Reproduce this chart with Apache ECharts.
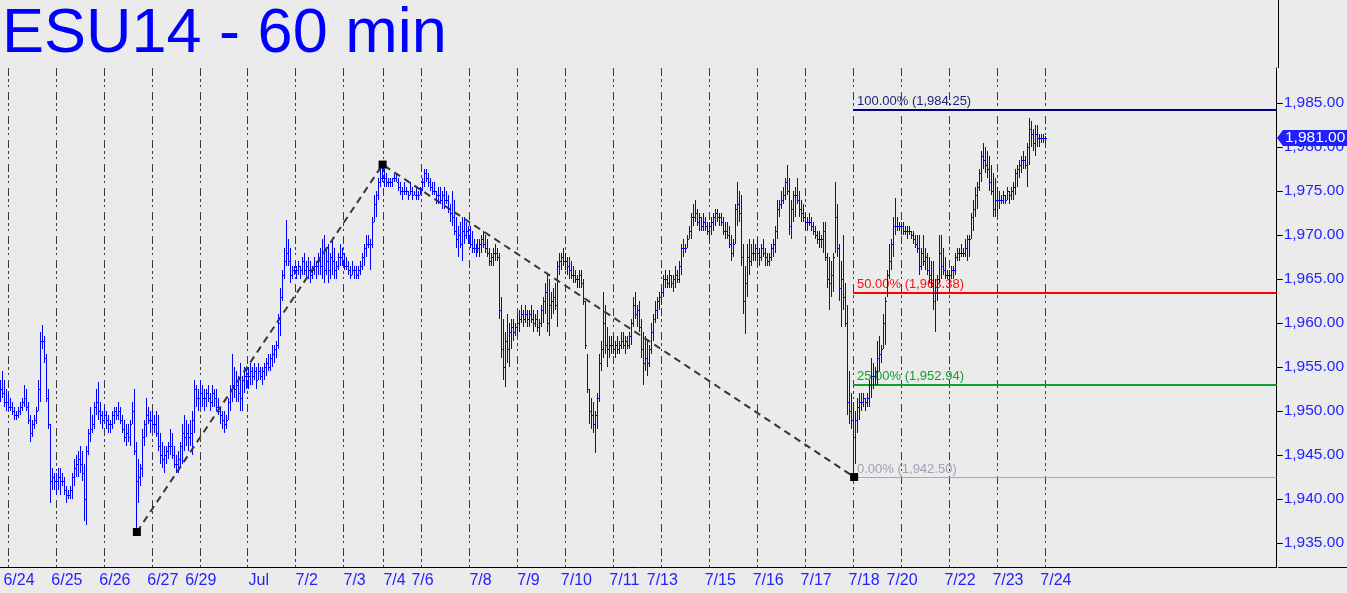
<!DOCTYPE html>
<html><head><meta charset="utf-8">
<script src="https://cdn.jsdelivr.net/npm/echarts@6/dist/echarts.min.js"></script>
<style>html,body{margin:0;padding:0;background:#ebebeb;}#c{width:1347px;height:593px;}</style>
</head><body><div id="c"></div>
<script>
// ---------- DATA (ESU14, 60-minute bars) ----------
const highs = [
1953.5,1954.5,1953.5,1952.5,1952.0,1951.5,1951.0,1950.5,1950.0,1950.5,
1951.0,1951.5,1953.0,1952.5,1951.0,1949.5,1949.0,1949.5,1950.5,1953.5,
1959.0,1959.75,1958.5,1956.5,1952.5,1948.5,1943.5,1943.0,1943.0,1943.5,
1943.5,1943.0,1942.5,1941.5,1941.0,1941.5,1943.0,1944.5,1945.0,1945.5,
1946.0,1945.5,1944.0,1946.0,1948.0,1950.5,1949.5,1951.0,1952.5,1953.25,
1951.0,1950.0,1950.5,1950.0,1949.5,1949.0,1950.0,1950.5,1950.5,1951.0,
1950.5,1949.5,1949.0,1948.5,1948.5,1949.0,1951.0,1952.5,1946.5,1944.5,
1944.0,1948.0,1949.0,1951.5,1950.5,1950.0,1950.0,1949.5,1950.0,1949.5,
1947.5,1946.5,1946.0,1946.0,1946.5,1948.0,1947.5,1946.0,1945.0,1945.5,
1946.5,1948.5,1949.5,1949.0,1948.5,1949.0,1950.0,1953.5,1953.0,1952.5,
1953.5,1953.0,1952.5,1952.5,1953.0,1952.0,1953.0,1952.5,1952.5,1951.5,
1950.5,1950.0,1950.0,1949.5,1951.5,1953.0,1956.5,1955.0,1954.5,1954.0,
1955.5,1954.0,1955.0,1955.0,1955.0,1955.5,1955.0,1955.5,1955.0,1955.5,
1955.0,1955.0,1955.5,1956.0,1956.5,1956.5,1957.5,1957.5,1958.0,1961.0,
1964.0,1966.0,1968.5,1971.75,1969.5,1968.5,1966.5,1966.5,1966.5,1967.0,
1966.5,1967.5,1968.0,1967.0,1967.5,1967.0,1966.5,1967.5,1967.0,1968.0,
1968.5,1969.5,1970.0,1968.5,1969.0,1968.0,1969.5,1968.5,1967.0,1968.0,
1969.0,1968.5,1968.0,1967.5,1967.0,1966.5,1967.0,1966.5,1966.5,1966.5,
1967.0,1968.0,1969.0,1970.0,1970.0,1969.5,1972.0,1974.5,1975.0,1976.5,
1977.5,1978.0,1977.5,1977.0,1976.5,1976.5,1976.5,1977.0,1977.0,1976.5,
1976.0,1975.5,1976.0,1975.5,1975.0,1976.0,1975.5,1975.0,1975.5,1975.0,
1975.5,1976.5,1977.5,1977.5,1977.0,1976.5,1976.0,1976.0,1975.0,1975.5,
1975.5,1975.0,1975.5,1975.0,1974.5,1973.5,1975.0,1974.0,1972.0,1971.0,
1971.5,1972.0,1972.0,1971.5,1971.0,1971.0,1970.5,1969.5,1969.0,1969.5,
1969.5,1970.0,1970.5,1970.0,1969.5,1968.5,1968.0,1968.5,1969.0,1968.5,
1968.0,1963.0,1960.5,1959.0,1961.0,1960.0,1960.5,1960.5,1960.0,1961.0,
1961.5,1962.0,1961.5,1962.0,1961.5,1961.5,1962.0,1961.5,1961.0,1961.5,
1960.5,1962.0,1963.0,1964.5,1965.5,1965.0,1963.5,1964.0,1964.5,1967.0,
1968.0,1968.0,1968.5,1968.0,1967.5,1967.5,1967.0,1966.5,1966.0,1965.5,
1966.0,1966.0,1965.0,1962.5,1956.5,1952.5,1951.5,1951.0,1950.0,1952.0,
1956.5,1958.0,1963.5,1962.0,1959.5,1958.5,1958.5,1958.5,1958.0,1958.5,
1958.0,1959.0,1959.0,1958.5,1958.5,1959.0,1960.5,1963.0,1963.5,1962.0,
1962.5,1960.5,1959.0,1958.5,1958.0,1957.5,1960.0,1961.0,1962.5,1963.0,
1963.5,1964.0,1965.5,1966.0,1965.5,1966.0,1965.5,1965.5,1966.5,1966.0,
1967.0,1969.0,1969.5,1969.0,1970.0,1971.0,1972.5,1973.5,1974.0,1973.0,
1972.5,1972.0,1972.5,1972.0,1971.5,1971.5,1972.0,1972.5,1973.0,1973.0,
1972.5,1972.5,1972.0,1971.5,1971.5,1971.0,1970.0,1969.5,1973.5,1976.0,
1975.0,1974.5,1969.0,1966.5,1969.0,1969.5,1969.0,1969.5,1969.0,1969.5,
1968.5,1969.0,1969.5,1968.5,1968.0,1968.0,1969.0,1969.5,1971.0,1974.0,
1974.0,1975.0,1975.5,1976.5,1978.0,1976.5,1974.0,1975.0,1975.5,1976.5,
1975.0,1974.0,1973.5,1972.5,1972.0,1972.5,1972.0,1971.5,1971.0,1970.5,
1970.5,1970.0,1971.5,1971.5,1968.0,1967.5,1967.0,1968.0,1976.0,1973.5,
1969.0,1967.0,1970.0,1964.5,1962.0,1954.5,1952.0,1951.0,1950.0,1951.5,
1952.0,1952.0,1952.0,1951.5,1952.0,1953.5,1956.0,1955.5,1955.0,1958.0,
1958.5,1957.5,1961.0,1963.0,1966.0,1969.0,1969.5,1972.0,1974.25,1972.0,
1971.5,1971.5,1971.5,1971.0,1971.0,1971.0,1970.5,1970.5,1970.0,1970.0,
1970.0,1968.5,1970.0,1968.5,1968.0,1967.5,1967.0,1967.0,1965.0,1965.5,
1970.0,1970.0,1968.5,1967.5,1966.0,1966.0,1966.5,1966.5,1968.0,1968.5,
1968.5,1969.0,1968.5,1969.5,1970.0,1970.0,1972.5,1974.0,1975.5,1976.0,
1977.5,1979.5,1980.5,1980.0,1979.5,1979.0,1978.0,1977.0,1976.5,1975.5,
1975.0,1974.5,1975.0,1974.5,1975.5,1975.0,1975.5,1976.0,1977.5,1978.0,
1978.5,1979.0,1979.5,1979.0,1980.5,1983.25,1983.0,1982.0,1982.5,1982.5,
1981.5,1981.5,1981.5,1981.25
];
const lows = [
1951.0,1951.5,1950.5,1950.0,1950.0,1950.0,1949.5,1949.0,1949.0,1949.25,
1949.5,1950.0,1950.5,1950.0,1948.5,1946.5,1947.0,1948.0,1948.5,1950.0,
1951.0,1957.0,1955.5,1951.0,1948.0,1939.5,1941.0,1941.0,1940.5,1941.0,
1940.5,1941.5,1940.5,1939.5,1940.0,1940.0,1940.0,1941.5,1942.5,1942.5,
1943.0,1942.0,1937.5,1937.0,1945.0,1946.5,1947.5,1948.0,1949.5,1949.0,
1948.5,1948.0,1948.5,1948.0,1947.5,1947.5,1948.0,1948.5,1949.0,1949.0,
1948.5,1947.5,1946.5,1946.0,1946.5,1946.0,1948.5,1945.0,1936.25,1939.5,
1941.5,1942.5,1946.0,1947.0,1948.5,1947.5,1948.0,1947.5,1947.0,1945.5,
1944.0,1943.5,1943.0,1944.0,1944.5,1945.0,1944.5,1943.5,1943.0,1943.0,
1943.5,1944.0,1945.5,1946.0,1945.5,1946.0,1945.0,1947.5,1950.5,1950.0,
1950.5,1950.5,1950.0,1950.5,1951.0,1950.0,1950.5,1950.5,1950.0,1949.5,
1948.5,1948.0,1947.5,1948.0,1949.0,1950.0,1951.0,1951.5,1951.0,1951.0,
1950.0,1950.0,1952.0,1952.5,1952.5,1953.0,1953.0,1953.5,1952.5,1953.5,
1953.5,1953.0,1953.5,1954.0,1954.5,1954.5,1955.0,1955.5,1956.0,1957.0,
1958.5,1962.5,1965.0,1966.5,1966.5,1964.5,1965.0,1965.5,1965.0,1965.5,
1965.0,1965.5,1965.5,1965.0,1965.0,1964.5,1965.0,1965.5,1965.0,1965.5,
1965.5,1965.0,1964.5,1965.5,1964.5,1965.0,1965.5,1965.0,1965.0,1966.0,
1966.5,1966.5,1966.0,1966.0,1965.5,1965.0,1965.5,1965.0,1965.0,1965.0,
1965.5,1966.0,1966.5,1967.5,1968.5,1966.0,1968.5,1971.5,1972.0,1974.0,
1975.5,1976.0,1975.5,1975.5,1975.5,1975.5,1975.5,1976.0,1976.0,1975.0,
1974.5,1974.0,1974.5,1974.5,1974.0,1974.5,1974.0,1974.5,1974.0,1974.0,
1974.5,1975.0,1975.5,1976.0,1975.5,1975.0,1974.5,1974.5,1973.5,1973.5,
1973.5,1973.0,1973.0,1973.5,1972.5,1971.5,1971.0,1970.0,1968.5,1967.5,
1968.5,1967.0,1969.0,1969.5,1969.0,1968.5,1968.0,1968.0,1967.5,1968.0,
1967.5,1968.0,1968.5,1968.0,1967.5,1966.5,1966.5,1966.5,1967.0,1967.0,
1960.5,1956.0,1953.5,1952.75,1955.5,1955.0,1957.0,1958.0,1958.5,1958.5,
1959.0,1960.0,1959.5,1960.0,1959.5,1959.5,1960.0,1959.0,1959.5,1959.0,
1958.5,1959.5,1960.0,1961.0,1959.0,1958.5,1960.5,1961.0,1961.5,1959.5,
1965.5,1966.0,1966.5,1966.0,1965.5,1965.0,1965.0,1964.5,1964.5,1964.0,
1964.0,1964.0,1962.0,1957.0,1952.0,1948.5,1948.0,1947.5,1945.25,1948.0,
1951.0,1954.5,1956.0,1956.5,1955.0,1956.0,1956.5,1956.5,1956.0,1956.5,
1956.5,1957.0,1957.0,1956.5,1957.0,1957.0,1957.5,1959.5,1960.5,1959.5,
1959.0,1956.0,1953.0,1954.5,1954.0,1955.0,1956.5,1958.0,1960.0,1960.5,
1961.5,1962.0,1963.0,1964.0,1964.0,1964.0,1964.0,1963.5,1964.0,1964.5,
1964.5,1965.5,1967.5,1968.0,1968.5,1969.5,1969.5,1971.0,1971.5,1971.0,
1970.5,1970.5,1970.5,1970.5,1970.0,1969.5,1970.0,1970.5,1971.0,1971.5,
1971.0,1971.0,1970.0,1969.5,1969.5,1968.5,1967.0,1967.5,1969.0,1971.0,
1971.5,1966.5,1961.0,1958.75,1963.0,1965.5,1966.5,1967.0,1967.0,1967.0,
1966.5,1967.0,1967.5,1966.5,1966.5,1966.5,1967.0,1967.5,1968.0,1969.5,
1972.0,1973.0,1973.5,1974.0,1974.5,1970.0,1969.5,1971.5,1972.0,1973.5,
1972.0,1971.5,1971.5,1970.5,1970.5,1971.0,1970.5,1970.0,1969.5,1969.0,
1968.5,1968.5,1968.0,1967.0,1964.0,1961.5,1963.0,1963.5,1968.0,1967.5,
1962.5,1959.5,1961.5,1959.5,1949.5,1948.5,1948.0,1942.5,1944.0,1947.5,
1949.0,1950.0,1950.5,1950.0,1950.5,1950.5,1951.5,1952.5,1953.0,1953.0,
1954.5,1955.5,1957.0,1957.5,1963.0,1965.0,1966.0,1967.5,1970.0,1970.5,
1970.5,1970.0,1970.0,1970.0,1969.5,1970.0,1969.5,1969.0,1968.5,1968.0,
1965.5,1966.0,1966.5,1966.0,1965.5,1964.5,1964.0,1961.5,1959.0,1962.5,
1964.5,1965.0,1965.5,1965.0,1965.0,1964.5,1965.0,1965.0,1965.5,1967.0,
1967.0,1967.5,1967.5,1967.5,1967.0,1967.5,1969.5,1970.5,1972.0,1973.0,
1975.0,1976.0,1977.5,1977.0,1976.5,1975.0,1974.5,1972.0,1972.0,1972.5,
1973.0,1973.5,1973.5,1973.5,1974.0,1973.5,1974.0,1974.0,1974.5,1975.5,
1976.5,1977.0,1977.5,1977.5,1975.5,1978.0,1980.0,1979.5,1979.0,1980.0,
1980.0,1980.5,1980.5,1980.5
];
const closes = [
1952.5,1952.0,1951.0,1951.0,1950.5,1950.5,1950.0,1949.5,1949.5,1950.0,
1950.5,1951.0,1951.5,1950.5,1949.0,1947.5,1948.5,1949.0,1950.0,1952.5,
1958.0,1958.0,1956.0,1951.5,1948.5,1942.0,1942.5,1942.0,1942.0,1942.5,
1942.0,1942.0,1941.0,1940.5,1940.5,1941.0,1942.5,1943.5,1944.0,1944.5,
1944.0,1943.0,1940.0,1945.5,1947.5,1948.0,1948.5,1950.5,1951.0,1950.0,
1949.5,1949.0,1949.5,1949.0,1948.5,1948.5,1949.5,1950.0,1949.5,1950.0,
1949.0,1948.0,1947.0,1947.5,1947.0,1948.5,1950.0,1945.5,1942.0,1942.5,
1943.5,1947.0,1948.5,1949.5,1949.0,1949.0,1948.5,1948.5,1947.5,1946.0,
1945.0,1944.5,1945.0,1945.5,1946.0,1946.0,1945.0,1944.0,1944.0,1944.5,
1946.0,1947.5,1947.0,1947.5,1947.0,1947.5,1949.0,1952.5,1951.5,1951.5,
1952.0,1951.5,1951.5,1952.0,1951.5,1951.0,1952.0,1951.5,1950.5,1950.0,
1949.5,1949.0,1948.5,1949.0,1951.0,1952.5,1953.0,1952.5,1953.0,1952.0,
1951.5,1953.5,1954.0,1954.0,1954.0,1954.5,1954.0,1954.5,1953.5,1954.5,
1954.0,1954.5,1955.0,1955.5,1955.0,1956.0,1956.5,1957.0,1957.5,1960.0,
1963.0,1965.5,1967.0,1968.0,1967.0,1965.5,1966.0,1966.0,1966.0,1966.5,
1966.0,1967.0,1966.0,1966.5,1966.0,1965.5,1966.0,1966.5,1966.5,1967.0,
1966.5,1968.0,1966.0,1967.0,1966.0,1967.5,1967.0,1966.0,1966.5,1967.5,
1967.5,1967.0,1966.5,1966.5,1966.0,1965.5,1966.0,1966.0,1965.5,1966.0,
1966.5,1967.5,1968.5,1969.0,1969.0,1969.0,1971.5,1973.5,1974.5,1976.0,
1976.5,1976.5,1976.5,1976.0,1976.0,1976.0,1976.5,1976.5,1976.0,1975.5,
1975.0,1975.0,1975.0,1975.0,1974.5,1975.0,1974.5,1974.5,1974.5,1974.5,
1975.0,1976.0,1977.0,1976.5,1976.0,1975.5,1975.0,1975.0,1974.5,1974.5,
1974.0,1974.5,1974.0,1974.0,1973.0,1972.5,1972.0,1970.5,1969.5,1970.0,
1969.0,1970.5,1970.0,1970.5,1970.0,1969.0,1968.5,1968.5,1968.5,1968.5,
1969.0,1969.5,1969.0,1968.5,1968.0,1967.0,1967.5,1968.0,1968.0,1967.5,
1961.5,1957.0,1955.0,1958.0,1957.0,1959.0,1959.5,1959.0,1959.5,1960.0,
1960.5,1961.0,1960.5,1961.0,1960.5,1961.0,1960.5,1960.0,1960.5,1959.5,
1960.0,1961.5,1962.5,1963.5,1960.0,1962.0,1962.5,1963.0,1962.0,1966.5,
1967.0,1967.5,1967.0,1967.0,1966.5,1966.0,1965.5,1965.5,1965.0,1965.0,
1965.5,1964.5,1962.5,1957.5,1952.5,1950.0,1949.5,1948.5,1949.5,1951.5,
1955.5,1957.0,1960.0,1957.5,1957.0,1957.5,1957.5,1957.0,1957.5,1957.0,
1957.5,1958.0,1957.5,1958.0,1957.5,1958.5,1960.0,1962.0,1961.0,1961.5,
1959.5,1957.0,1955.5,1956.0,1955.5,1957.0,1959.0,1960.5,1961.5,1962.5,
1963.0,1963.5,1965.0,1965.0,1964.5,1965.5,1964.5,1965.0,1965.5,1965.0,
1966.5,1968.5,1968.5,1968.5,1969.5,1970.5,1972.0,1972.0,1972.5,1971.5,
1972.0,1971.0,1971.5,1971.0,1970.5,1971.0,1971.5,1972.0,1972.5,1972.0,
1972.0,1971.5,1970.5,1970.5,1970.0,1969.0,1968.0,1969.0,1973.0,1973.5,
1972.5,1967.5,1962.5,1964.5,1967.5,1967.0,1968.0,1968.0,1968.5,1968.0,
1967.5,1968.5,1968.0,1967.5,1967.0,1967.5,1968.5,1969.0,1970.5,1973.0,
1973.5,1974.0,1974.5,1976.0,1975.0,1971.0,1973.0,1974.5,1974.5,1974.0,
1973.0,1972.5,1972.0,1971.5,1971.5,1971.5,1971.0,1970.5,1970.0,1969.5,
1969.5,1969.5,1970.5,1967.5,1965.0,1964.5,1965.5,1967.5,1972.0,1968.5,
1964.0,1965.0,1963.0,1960.0,1951.0,1950.0,1949.0,1947.0,1949.0,1950.5,
1951.0,1951.0,1951.5,1951.0,1951.5,1953.0,1954.0,1954.0,1954.5,1956.0,
1956.5,1957.0,1960.0,1962.5,1965.5,1967.0,1969.0,1971.0,1971.0,1971.0,
1971.0,1971.0,1970.5,1970.5,1970.5,1970.5,1970.0,1969.5,1969.0,1968.5,
1966.5,1968.0,1967.0,1967.5,1966.0,1965.5,1964.5,1962.5,1963.5,1965.0,
1968.0,1966.5,1966.0,1965.5,1965.5,1965.5,1966.0,1966.0,1967.5,1968.0,
1968.0,1968.0,1968.0,1968.5,1969.5,1969.5,1972.0,1973.0,1974.5,1975.5,
1977.0,1979.0,1978.5,1978.0,1977.5,1976.0,1975.0,1973.0,1974.0,1974.0,
1974.0,1974.0,1974.5,1974.0,1975.0,1974.5,1975.0,1975.5,1977.0,1977.5,
1978.0,1978.5,1978.5,1978.0,1980.0,1982.0,1981.5,1980.5,1981.5,1981.0,
1981.0,1981.0,1981.0,1981.0
];
// trading sessions (trade date, number of hourly bars); each opens 18:00 ET the evening before
const sessionDates = ['2014-06-23','2014-06-24','2014-06-25','2014-06-26','2014-06-27','2014-06-30',
  '2014-07-01','2014-07-02','2014-07-03','2014-07-04','2014-07-07','2014-07-08','2014-07-09',
  '2014-07-10','2014-07-11','2014-07-14','2014-07-15','2014-07-16','2014-07-17','2014-07-18',
  '2014-07-21','2014-07-22','2014-07-23','2014-07-24'];
const sessionBars = [24,24,24,24,24,24,24,24,20,19,24,24,24,24,24,24,24,24,24,24,24,24,24,24];
const firstBar = 20;          // chart window begins at bar 20 of the first session
const totalSlots = 639;       // bar slots across the price pane (incl. empty future space)
const monthNames = ['Jan','Feb','Mar','Apr','May','Jun','Jul','Aug','Sep','Oct','Nov','Dec'];
// Fibonacci retracement from the 7/18 low
const fibPct = [100, 50, 25, 0];
const fibPrice = [1984.25, 1963.38, 1952.94, 1942.50];
// swing points of the dashed zig-zag (bar index, price)
const swingIdx = [68, 191, 427];
const swingPrice = [1936.25, 1978.00, 1942.50];
const lastPrice = 1981.00;
const titleText = 'ESU14 - 60 min';

// ---------- build categories ----------
const HOUR = 3600e3;
const cats = [], catDate = [], sessionStart = new Set();
let g = 0;
sessionDates.forEach((d, s) => {
  const base = Date.parse(d + 'T00:00:00Z') - 6 * HOUR;
  for (let k = 0; k < sessionBars[s]; k++, g++) {
    if (g < firstBar) continue;
    const t = new Date(base + (k + 1) * HOUR);
    const md = (t.getUTCMonth() + 1) + '/' + t.getUTCDate();
    if (k === 0) sessionStart.add(cats.length);
    cats.push(md + ' ' + String(t.getUTCHours()).padStart(2, '0') + ':00');
    catDate.push({ m: t.getUTCMonth(), d: t.getUTCDate(), md: md });
  }
});
while (cats.length < totalSlots) { cats.push(''); catDate.push(null); }
const labelAt = {};
let lastShown = -100;
for (let i = 1; i < cats.length; i++) {
  if (!catDate[i] || !catDate[i - 1]) continue;
  if (catDate[i].md !== catDate[i - 1].md && i - lastShown >= 8) {
    labelAt[i] = catDate[i].d === 1 ? monthNames[catDate[i].m] : catDate[i].md;
    lastShown = i;
  }
}

// ---------- styles ----------
const FONT = '"Liberation Sans", Arial, sans-serif';
const BLUE = '#2222ff';
const BAR = '#0000ff';
const fibLine = ['#000080', '#ff0000', '#10a030', '#a8a8a8'];
const fibText = ['#1e1e78', '#ff1010', '#10a030', '#a0a0b4'];
const fibWidth = [2, 2, 2, 1];
const fmt = v => Number(v).toLocaleString('en-US', { minimumFractionDigits: 2, maximumFractionDigits: 2 });

const chart = echarts.init(document.getElementById('c'));
const option = {
  backgroundColor: '#ebebeb',
  animation: false,
  title: {
    text: titleText, left: 2, top: 3, padding: 0,
    textStyle: { color: '#0000ff', fontSize: 63, fontFamily: FONT, fontWeight: 'normal' }
  },
  grid: { left: 0, right: 69, top: 68, bottom: 26, containLabel: false },
  xAxis: [{
    type: 'category', data: cats, boundaryGap: true, position: 'bottom',
    axisLine: { lineStyle: { color: '#000', width: 1 } },
    axisTick: { interval: (i) => labelAt[i] !== undefined, length: 8, lineStyle: { color: '#000' } },
    axisLabel: { interval: (i) => labelAt[i] !== undefined, formatter: (v, i) => labelAt[i] || '',
      color: BLUE, fontSize: 16, fontFamily: FONT, margin: 6 },
    splitLine: { show: false }
  }, {
    type: 'category', data: cats, boundaryGap: true, position: 'top',
    axisLine: { show: false }, axisTick: { show: false }, axisLabel: { show: false },
    splitLine: { show: true, interval: (i) => sessionStart.has(i),
      lineStyle: { color: '#3a3a3a', width: 1, type: [8, 3, 3, 3, 2, 5] } }
  }],
  yAxis: {
    type: 'value', position: 'right',
    min: 1932.273, max: 1988.977,
    minInterval: 5, maxInterval: 5, splitNumber: 11,
    axisLine: { show: true, lineStyle: { color: '#000' } },
    axisTick: { show: true, length: 6, lineStyle: { color: '#000' } },
    axisLabel: { color: BLUE, fontSize: 15.5, fontFamily: FONT, margin: 7,
      showMinLabel: false, showMaxLabel: false, formatter: fmt },
    splitLine: { show: false }
  },
  series: [{
    type: 'custom', name: 'fib', xAxisIndex: 0, z: 1,
    data: fibPrice.map((p, i) => [swingIdx[2], p, i]),
    encode: { x: 0, y: 1 },
    renderItem: (params, api) => {
      const k = api.value(2);
      const pt = api.coord([api.value(0), api.value(1)]);
      const x0 = Math.round(pt[0] - 1);
      const xr = params.coordSys.x + params.coordSys.width;
      const y = Math.round(pt[1]) + (fibWidth[k] === 1 ? 0.5 : 0);
      return { type: 'group', children: [
        { type: 'line', shape: { x1: x0, y1: y, x2: xr, y2: y },
          style: { stroke: fibLine[k], lineWidth: fibWidth[k] } },
        { type: 'text', x: x0 + 4, y: y - 2,
          style: { text: fibPct[k].toFixed(2) + '% (' + fmt(fibPrice[k]) + ')', fill: fibText[k],
            font: '13px ' + FONT, textAlign: 'left', textVerticalAlign: 'bottom' } }
      ]};
    }
  }, {
    // all HLC bars are drawn as one compound path, positioned through the axes' scales
    type: 'custom', name: 'ESU14', xAxisIndex: 0, z: 2,
    data: highs.map((h, i) => [i, h, lows[i], closes[i]]),
    encode: { x: 0, y: [1, 2, 3] },
    renderItem: (params, api) => {
      if (params.dataIndex !== 0) return null;
      let d = '';
      for (let i = 0; i < highs.length; i++) {
        const top = api.coord([i, highs[i]]);
        const bot = api.coord([i, lows[i]]);
        const cl = api.coord([i, closes[i]]);
        const x = Math.round(top[0] - 1) + 0.5;
        const y1 = Math.round(top[1]);
        const y2 = Math.max(Math.round(bot[1]), y1 + 1);
        const yc = Math.round(cl[1]) + 0.5;
        d += 'M' + x + ' ' + y1 + 'V' + y2 + 'M' + (x + 0.5) + ' ' + yc + 'H' + (x + 1.5);
      }
      return { type: 'path', shape: { pathData: d },
        style: { stroke: BAR, lineWidth: 1, fill: null } };
    }
  }, {
    type: 'line', name: 'swing', xAxisIndex: 0, z: 3,
    data: swingIdx.map((x, i) => [x, swingPrice[i]]),
    symbol: 'rect', symbolSize: 8, showAllSymbol: true,
    itemStyle: { color: '#000' },
    lineStyle: { color: '#363636', width: 2, type: [7, 5] }
  }]
};
chart.setOption(option);

const yTag = Math.round(chart.convertToPixel({ yAxisIndex: 0 }, lastPrice));
const axX = 1278;
chart.setOption({ graphic: [
  { type: 'line', shape: { x1: axX + 0.5, y1: 0, x2: axX + 0.5, y2: 68 }, style: { stroke: '#000', lineWidth: 1 } },
  { type: 'line', shape: { x1: axX, y1: 567.5, x2: 1347, y2: 567.5 }, style: { stroke: '#000', lineWidth: 1 } },
  { type: 'polygon', z: 10, shape: { points: [[axX - 1, yTag], [axX + 5, yTag - 8], [1347, yTag - 8], [1347, yTag + 8], [axX + 5, yTag + 8]] },
    style: { fill: '#1f1fff' } },
  { type: 'text', z: 11, x: axX + 7, y: yTag,
    style: { text: fmt(lastPrice), fill: '#fff', font: '15.5px ' + FONT, textAlign: 'left', textVerticalAlign: 'middle' } }
]});
</script></body></html>
